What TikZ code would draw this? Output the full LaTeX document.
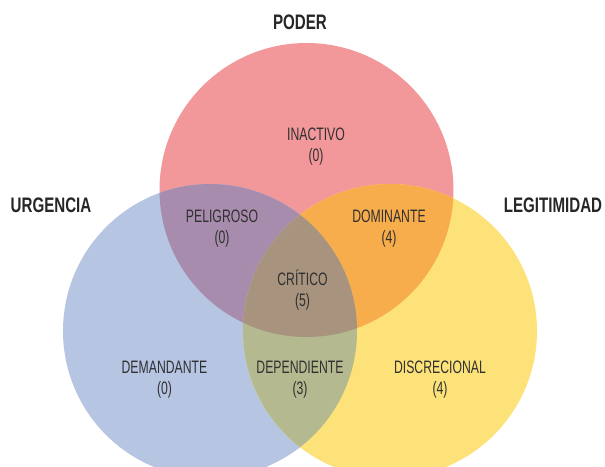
\documentclass[tikz,border=0pt]{standalone}
\usepackage{fontspec}
\setmainfont{Liberation Sans}
\newfontfamily\condfont[FakeStretch=0.68]{Liberation Sans}
\newfontfamily\ttlfont[FakeStretch=0.72]{Liberation Sans}
\definecolor{cR}{HTML}{F2979A}
\definecolor{cB}{HTML}{B5C5E2}
\definecolor{cY}{HTML}{FDE27A}
\definecolor{cRB}{HTML}{A88CAE}
\definecolor{cRY}{HTML}{F8AD4C}
\definecolor{cBY}{HTML}{B4B98F}
\definecolor{cRBY}{HTML}{A8937F}
\definecolor{txt}{HTML}{303030}
\definecolor{ttlc}{HTML}{262626}
\begin{document}
\begin{tikzpicture}[x=1pt,y=-1pt,
  lbl/.style={font=\condfont\fontsize{18}{21}\selectfont, text=txt, align=center, inner sep=0pt},
  ttl/.style={font=\ttlfont\bfseries\fontsize{21}{24}\selectfont, text=ttlc, inner sep=0pt}]
\useasboundingbox (0,0) rectangle (605,466);
\clip (0,0) rectangle (605,466);
\coordinate (R) at (306.5,190);
\coordinate (B) at (210,331);
\coordinate (Y) at (390,331);
\fill[cR] (R) circle[radius=147pt];
\fill[cB] (B) circle[radius=147pt];
\fill[cY] (Y) circle[radius=147pt];
\begin{scope}
  \clip (R) circle[radius=147pt];
  \fill[cRB] (B) circle[radius=147pt];
  \fill[cRY] (Y) circle[radius=147pt];
\end{scope}
\begin{scope}
  \clip (B) circle[radius=147pt];
  \fill[cBY] (Y) circle[radius=147pt];
\end{scope}
\begin{scope}
  \clip (R) circle[radius=147pt];
  \clip (B) circle[radius=147pt];
  \fill[cRBY] (Y) circle[radius=147pt];
\end{scope}
\node[ttl] (poder) at (300,22) {PODER};
\node[ttl] (urg) at (51,205) {URGENCIA};
\node[ttl] (leg) at (553,205) {LEGITIMIDAD};
\node[lbl] (inac) at (316,146.5) {INACTIVO\\(0)};
\node[lbl] (pel) at (222,229) {PELIGROSO\\(0)};
\node[lbl] (dom) at (389,229) {DOMINANTE\\(4)};
\node[lbl] (crit) at (302.5,290.5) {CRÍTICO\\(5)};
\node[lbl] (dem) at (164.5,380) {DEMANDANTE\\(0)};
\node[lbl] (dep) at (300,380) {DEPENDIENTE\\(3)};
\node[lbl] (dis) at (440,380) {DISCRECIONAL\\(4)};
\end{tikzpicture}
\end{document}
